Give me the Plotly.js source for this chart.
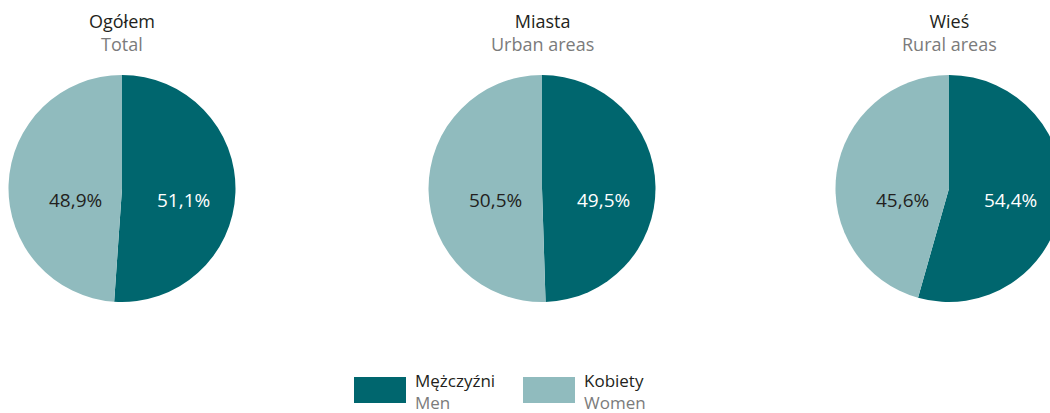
<!DOCTYPE html>
<html><head><meta charset="utf-8">
<script src="https://cdn.plot.ly/plotly-3.0.1.min.js"></script>
<style>html,body{margin:0;padding:0;overflow:hidden;background:#fff;}#chart{width:1070px;height:413px;}</style>
</head><body><div id="chart"></div>
<script>
const groupsPL = ["Ogółem", "Miasta", "Wieś"];
const groupsEN = ["Total", "Urban areas", "Rural areas"];
const seriesPL = ["Mężczyźni", "Kobiety"];
const seriesEN = ["Men", "Women"];
const men = [51.1, 49.5, 54.4];
const women = [48.9, 50.5, 45.6];

const colors = ["#00666e", "#90bbbe"];
const textColors = ["#ffffff", "#231f20"];
const W = 1070, H = 413;
const centersX = [122, 542, 949];
const cy = 188.5, R = 113.5;
const labelDX = [61, -47];
const labelY = 200;
const font = "Open Sans, Noto Sans, sans-serif";

function fmt(v) { return v.toFixed(1).replace(".", ",") + "%"; }

const data = [], annotations = [], shapes = [];
for (let i = 0; i < 3; i++) {
  const cx = centersX[i];
  const vals = [men[i], women[i]];
  data.push({
    type: "pie",
    values: vals,
    labels: seriesPL,
    sort: false,
    direction: "clockwise",
    rotation: 0,
    marker: {colors: colors, line: {width: 0}},
    textinfo: "none",
    hoverinfo: "label+value",
    showlegend: false,
    domain: {x: [(cx - R) / W, (cx + R) / W], y: [(H - cy - R) / H, (H - cy + R) / H]}
  });
  for (let j = 0; j < 2; j++) {
    annotations.push({
      xref: "paper", yref: "paper", x: (cx + labelDX[j]) / W, y: 1 - labelY / H,
      xanchor: "center", yanchor: "middle", text: fmt(vals[j]), showarrow: false,
      font: {family: font, size: 19, color: textColors[j]}
    });
  }
  annotations.push({
    xref: "paper", yref: "paper", x: cx / W, y: 1 - 33 / H, yanchor: "middle", xanchor: "center",
    text: groupsPL[i] + "<br><span style='color:#7b7b7b'>" + groupsEN[i] + "</span>",
    showarrow: false, font: {family: font, size: 18, color: "#231f20"}
  });
}
// legend
const legX = [354, 523];
for (let j = 0; j < 2; j++) {
  shapes.push({type: "rect", xref: "paper", yref: "paper",
    x0: legX[j] / W, x1: (legX[j] + 52) / W, y0: 1 - 403 / H, y1: 1 - 377 / H,
    fillcolor: colors[j], line: {width: 0}});
  annotations.push({xref: "paper", yref: "paper", x: (legX[j] + 60) / W, y: 1 - 391 / H,
    xanchor: "left", yanchor: "middle", align: "left",
    text: seriesPL[j] + "<br><span style='color:#7b7b7b'>" + seriesEN[j] + "</span>",
    showarrow: false, borderpad: 0,
    font: {family: font, size: 17, color: "#231f20"}});
}

Plotly.newPlot("chart", data, {
  width: W, height: H, margin: {l: 0, r: 0, t: 0, b: 0},
  paper_bgcolor: "#fff", separators: ", ",
  showlegend: false, annotations: annotations, shapes: shapes
}, {displayModeBar: false, staticPlot: true});
</script></body></html>
